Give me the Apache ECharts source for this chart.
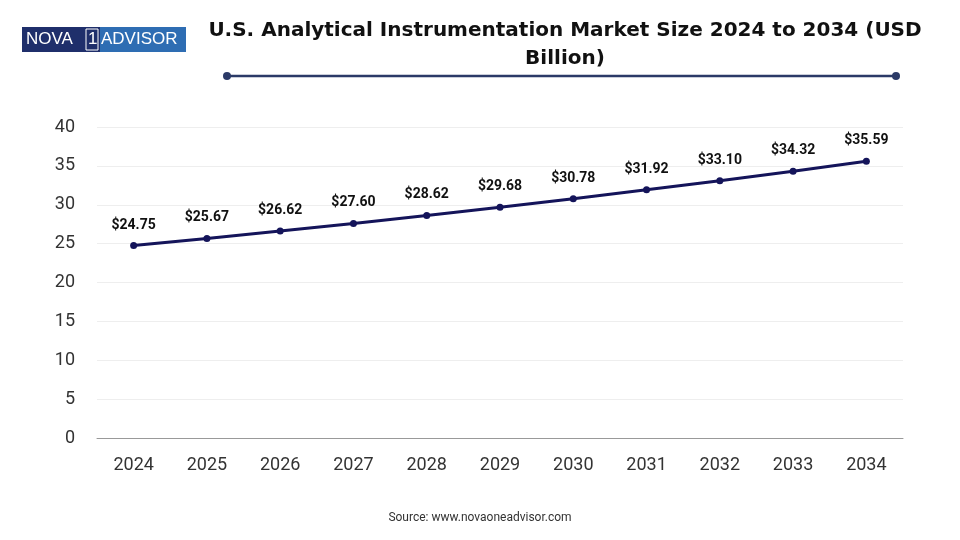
<!DOCTYPE html>
<html><head><meta charset="utf-8">
<script src="https://cdn.jsdelivr.net/npm/echarts@6/dist/echarts.min.js"></script>
<style>html,body{margin:0;background:#fff}#c{width:960px;height:540px}</style>
</head><body><div id="c"></div>
<script>
const years = ['2024','2025','2026','2027','2028','2029','2030','2031','2032','2033','2034'];
const values = [24.75,25.67,26.62,27.60,28.62,29.68,30.78,31.92,33.10,34.32,35.59];
const yTicks = [0,5,10,15,20,25,30,35,40];
const chart = echarts.init(document.getElementById('c'));
chart.setOption({
  backgroundColor:'#fff',
  title:{text:'U.S. Analytical Instrumentation Market Size 2024 to 2034 (USD\nBillion)',left:560,top:12,textAlign:'center',
    textStyle:{fontFamily:'DejaVu Sans',fontWeight:'bold',fontSize:20,lineHeight:28,color:'#111'}},
  grid:{left:97,right:57,top:127,bottom:102},
  xAxis:{type:'category',data:years,boundaryGap:true,
    axisLine:{lineStyle:{color:'#999'}},axisTick:{show:false},
    axisLabel:{fontFamily:'Roboto',fontSize:18,color:'#333',margin:18}},
  yAxis:{type:'value',min:0,max:40,interval:5,
    axisLine:{show:false},axisTick:{show:false},
    splitLine:{lineStyle:{color:'#eee'}},
    axisLabel:{fontFamily:'Roboto',fontSize:18,color:'#333',margin:22}},
  series:[{type:'line',data:values,symbol:'circle',symbolSize:7,
    lineStyle:{color:'#14145a',width:3},itemStyle:{color:'#14145a'},
    label:{show:true,position:'top',distance:10,formatter:p=>'$'+p.value.toFixed(2),
      fontFamily:'Roboto',fontWeight:'bold',fontSize:14,color:'#111'}}],
  graphic:[
    {type:'line',shape:{x1:227,y1:76,x2:896,y2:76},style:{stroke:'#2b3a67',lineWidth:2.5}},
    {type:'circle',shape:{cx:227,cy:76,r:4},style:{fill:'#2b3a67'}},
    {type:'circle',shape:{cx:896,cy:76,r:4},style:{fill:'#2b3a67'}},
    {type:'rect',shape:{x:22,y:27,width:78,height:25},style:{fill:'#1f2f6b'}},
    {type:'rect',shape:{x:100,y:27,width:86,height:25},style:{fill:'#2e6db3'}},
    {type:'text',x:26,y:31,style:{text:'NOVA',fill:'#fff',font:'17px "Liberation Sans"'}},
    {type:'rect',shape:{x:86,y:29,width:12,height:21},style:{fill:'none',stroke:'#fff',lineWidth:1}},
    {type:'text',x:88,y:31,style:{text:'1',fill:'#fff',font:'17px "Liberation Sans"'}},
    {type:'text',x:101,y:31,style:{text:'ADVISOR',fill:'#fff',font:'17px "Liberation Sans"'}},
    {type:'text',left:'center',top:512,style:{text:'Source: www.novaoneadvisor.com',fill:'#333',font:'12px Roboto'}}
  ]
});
</script></body></html>
